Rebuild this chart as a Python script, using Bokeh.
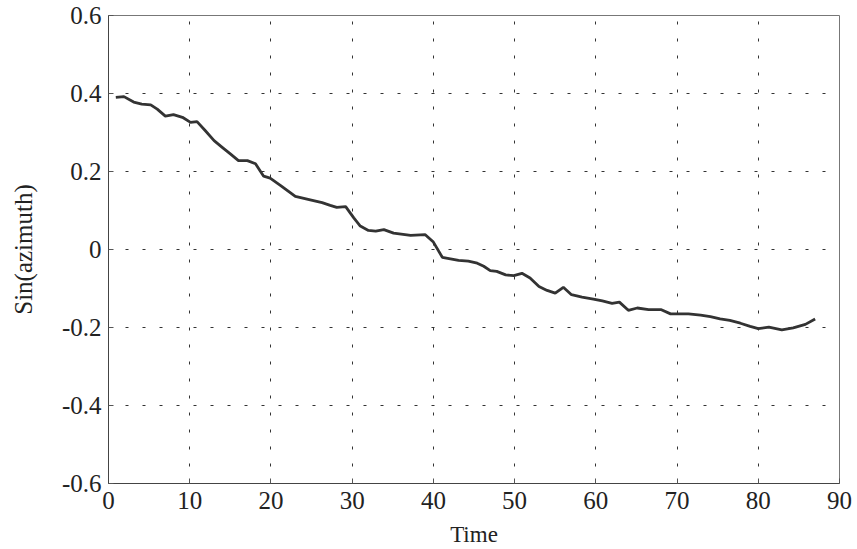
from bokeh.plotting import figure
from bokeh.models import Range1d, FixedTicker
from bokeh.embed import file_html
from bokeh.resources import INLINE

time = [0.9, 1.9, 3.1, 4.1, 5.2, 6.0, 7.0, 8.0, 9.1, 10.1, 10.9, 11.9, 13.0, 14.0,
        15.0, 16.0, 17.1, 18.1, 19.1, 19.9, 21.2, 23.0, 25.1, 26.3, 27.3, 28.1,
        29.2, 30.2, 31.0, 32.0, 32.9, 33.9, 35.1, 37.2, 39.0, 40.0, 41.1, 42.1,
        43.1, 44.3, 45.4, 46.2, 47.0, 47.8, 48.9, 49.9, 50.9, 51.9, 53.0, 54.0,
        55.0, 56.0, 57.0, 58.3, 59.7, 60.8, 62.0, 62.9, 64.0, 65.1, 66.5, 68.0,
        69.2, 70.2, 71.4, 72.9, 74.1, 75.3, 76.5, 77.8, 79.0, 80.0, 81.3, 82.9,
        84.3, 85.8, 87.0]
sin_azimuth = [0.390, 0.392, 0.378, 0.373, 0.371, 0.360, 0.342, 0.346, 0.339, 0.326,
               0.328, 0.305, 0.279, 0.262, 0.245, 0.228, 0.228, 0.220, 0.188, 0.183,
               0.164, 0.136, 0.126, 0.120, 0.113, 0.108, 0.110, 0.081, 0.060, 0.049,
               0.047, 0.051, 0.042, 0.036, 0.038, 0.019, -0.020, -0.024, -0.028,
               -0.030, -0.035, -0.043, -0.054, -0.056, -0.065, -0.067, -0.061,
               -0.073, -0.095, -0.105, -0.112, -0.097, -0.116, -0.122, -0.127,
               -0.132, -0.138, -0.135, -0.156, -0.150, -0.154, -0.154, -0.165,
               -0.165, -0.165, -0.168, -0.172, -0.178, -0.182, -0.189, -0.197,
               -0.203, -0.199, -0.206, -0.201, -0.192, -0.178]

x_ticks = [0, 10, 20, 30, 40, 50, 60, 70, 80, 90]
y_ticks = [-0.6, -0.4, -0.2, 0, 0.2, 0.4, 0.6]
y_tick_labels = ["-0.6", "-0.4", "-0.2", "0", "0.2", "0.4", "0.6"]

FONT = "Liberation Serif"

p = figure(frame_width=731, frame_height=468, output_backend="svg",
           toolbar_location=None, x_range=Range1d(0, 90), y_range=Range1d(-0.6, 0.6),
           min_border_left=108, min_border_top=15, min_border_right=14,
           min_border_bottom=62, background_fill_color="white",
           border_fill_color="white")
p.outline_line_color = "#777777"
p.outline_line_width = 1

p.line(time, sin_azimuth, line_color="#333333", line_width=2.8)

for ax in (p.xaxis[0], p.yaxis[0]):
    ax.major_tick_in = 5
    ax.major_tick_out = 0
    ax.minor_tick_line_color = None
    ax.axis_line_color = "#444444"
    ax.major_tick_line_color = "#555555"
    ax.major_label_text_font = FONT
    ax.major_label_text_font_size = "25px"
    ax.major_label_text_color = "#222222"
    ax.axis_label_text_font = FONT
    ax.axis_label_text_font_style = "normal"
    ax.axis_label_text_color = "#222222"

p.xaxis.ticker = FixedTicker(ticks=x_ticks)
p.yaxis.ticker = FixedTicker(ticks=y_ticks)
p.yaxis.major_label_overrides = {t: l for t, l in zip(y_ticks, y_tick_labels)}
p.xaxis.axis_label = "Time"
p.yaxis.axis_label = "Sin(azimuth)"
p.xaxis.axis_label_text_font_size = "23px"
p.yaxis.axis_label_text_font_size = "25px"
p.xaxis.major_label_standoff = 8
p.yaxis.major_label_standoff = 7
p.xaxis.axis_label_standoff = 10
p.yaxis.axis_label_standoff = 22

p.xgrid.ticker = FixedTicker(ticks=x_ticks)
p.ygrid.ticker = FixedTicker(ticks=y_ticks)
for g in (p.xgrid[0], p.ygrid[0]):
    g.grid_line_color = "#333333"
    g.grid_line_dash = "3 14"
    g.grid_line_width = 1

open("out.html", "w").write(file_html(p, INLINE))
